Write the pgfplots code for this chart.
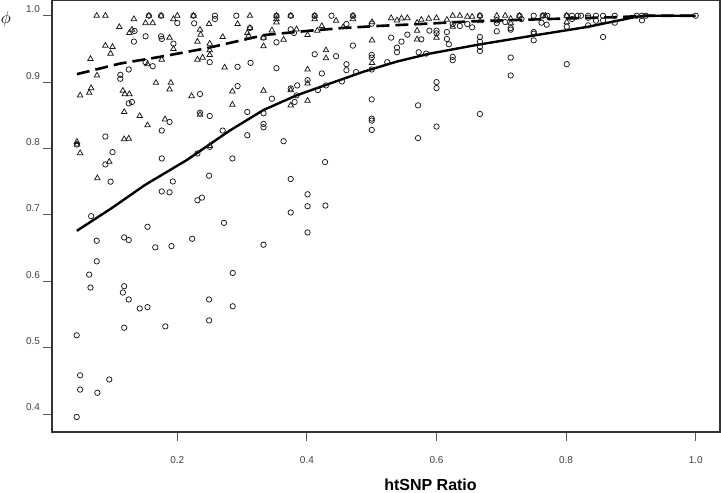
\documentclass[border=0pt]{standalone}
\usepackage{fontspec}
\setmainfont{Liberation Sans}
\usepackage{pgfplots}
\usepackage{pgfplotstable}
\pgfplotsset{compat=1.18}

% circles
\pgfplotstableread{
x y
0.156 1.0
0.175 1.0
0.200 0.989
0.225 1.0
0.226 0.9885
0.258 1.0
0.258 0.995
0.291 1.0
0.293 0.923
0.293 0.894
0.134 0.977
0.133 0.961
0.151 0.969
0.175 0.969
0.176 0.965
0.194 0.958
0.250 0.930
0.151 0.930
0.162 0.924
0.125 0.919
0.112 0.911
0.112 0.905
0.235 0.882
0.125 0.868
0.130 0.870
0.188 0.840
0.176 0.827
0.235 0.854
0.250 0.849
0.270 0.827
0.045 0.806
0.089 0.818
0.100 0.7945
0.089 0.776
0.176 0.785
0.231 0.7925
0.250 0.8025
0.285 0.785
0.312 0.9815
0.313 0.929
0.308 0.855
0.308 0.820
0.353 1.0
0.333 0.967
0.353 0.960
0.375 1.0
0.375 0.9795
0.380 0.974
0.353 0.921
0.346 0.875
0.333 0.853
0.333 0.837
0.333 0.832
0.364 0.811
0.412 1.0
0.412 0.942
0.423 0.913
0.401 0.903
0.385 0.895
0.375 0.8905
0.384 0.880
0.381 0.870
0.417 0.888
0.445 0.939
0.4295 0.895
0.438 1.0
0.461 0.9875
0.471 1.0
0.471 0.955
0.461 0.927
0.461 0.918
0.476 0.915
0.454 0.901
0.428 0.7795
0.500 0.988
0.500 0.941
0.500 0.937
0.500 0.919
0.500 0.874
0.500 0.845
0.500 0.842
0.500 0.828
0.524 0.930
0.530 0.967
0.539 0.952
0.539 0.945
0.546 0.961
0.555 0.9715
0.5765 0.9645
0.589 0.9775
0.600 0.9775
0.600 0.9735
0.616 0.9755
0.616 0.965
0.619 0.957
0.5725 0.945
0.584 0.943
0.625 0.938
0.625 0.933
0.600 0.900
0.600 0.891
0.5715 0.865
0.600 0.833
0.5715 0.8156
0.625 0.9875
0.636 0.9845
0.6475 0.9875
0.655 0.9825
0.667 1.0
0.667 0.968
0.667 0.961
0.667 0.953
0.667 0.947
0.667 0.852
0.693 0.993
0.693 0.989
0.693 0.9765
0.706 0.9905
0.7145 0.9815
0.7145 0.979
0.7145 0.937
0.7145 0.910
0.728 1.0
0.731 0.995
0.750 1.0
0.750 0.9755
0.750 0.973
0.750 0.963
0.764 1.0
0.771 1.0
0.762 0.9895
0.770 0.9865
0.801 1.0
0.801 0.9835
0.801 0.927
0.809 1.0
0.809 0.995
0.818 1.0
0.823 1.0
0.834 1.0
0.834 0.997
0.834 0.9855
0.846 1.0
0.846 0.9925
0.857 1.0
0.857 0.993
0.857 0.968
0.875 1.0
0.875 0.9895
0.909 1.0
0.917 1.0
0.917 0.993
0.923 1.0
1.0 1.0
0.097 0.750
0.067 0.698
0.176 0.7353
0.188 0.734
0.193 0.7503
0.249 0.759
0.231 0.722
0.238 0.726
0.272 0.688
0.154 0.682
0.118 0.666
0.125 0.662
0.0756 0.661
0.166 0.651
0.191 0.653
0.223 0.664
0.0756 0.630
0.064 0.610
0.066 0.5905
0.118 0.5925
0.116 0.583
0.125 0.5725
0.142 0.559
0.154 0.561
0.249 0.5725
0.2855 0.6125
0.2855 0.5623
0.249 0.541
0.118 0.530
0.1815 0.532
0.0447 0.5186
0.050 0.4583
0.050 0.4368
0.0766 0.432
0.095 0.452
0.0447 0.3955
0.375 0.754
0.401 0.731
0.401 0.713
0.4285 0.714
0.375 0.7036
0.401 0.6735
0.333 0.655
}\circles

% triangles
\pgfplotstableread{
x y
0.0756 1.0
0.089 1.0
0.1105 0.983
0.133 0.995
0.151 0.989
0.162 0.989
0.126 0.974
0.130 0.979
0.156 1.0
0.175 1.0
0.200 1.0
0.194 0.995
0.225 1.0
0.249 0.9875
0.293 0.9875
0.270 0.968
0.235 0.979
0.236 0.9715
0.231 0.961
0.250 0.958
0.250 0.948
0.250 0.941
0.239 0.937
0.231 0.934
0.273 0.922
0.285 0.886
0.285 0.866
0.188 0.967
0.194 0.950
0.089 0.955
0.100 0.953
0.097 0.943
0.066 0.935
0.076 0.910
0.154 0.927
0.176 0.934
0.167 0.899
0.190 0.899
0.188 0.889
0.222 0.879
0.050 0.880
0.064 0.884
0.067 0.891
0.116 0.887
0.119 0.882
0.126 0.882
0.118 0.855
0.142 0.849
0.154 0.835
0.181 0.844
0.235 0.851
0.045 0.810
0.045 0.806
0.050 0.793
0.118 0.814
0.125 0.815
0.095 0.780
0.250 0.804
0.0766 0.7553
0.312 1.0
0.312 0.9815
0.308 0.974
0.310 0.970
0.353 1.0
0.353 0.995
0.353 0.990
0.333 0.967
0.333 0.954
0.364 0.964
0.346 0.978
0.375 1.0
0.384 0.9795
0.333 0.887
0.412 1.0
0.412 0.995
0.401 0.971
0.401 0.919
0.401 0.898
0.375 0.888
0.375 0.865
0.401 0.872
0.4295 0.948
0.4295 0.936
0.445 0.9925
0.423 0.9845
0.416 0.9775
0.456 0.983
0.471 1.0
0.471 0.995
0.5005 0.9905
0.5005 0.963
0.5005 0.929
0.530 0.9965
0.539 0.993
0.546 0.996
0.555 0.9965
0.570 0.9895
0.5765 0.994
0.588 0.9955
0.600 0.9965
0.570 0.9775
0.570 0.9645
0.600 0.967
0.625 1.0
0.636 1.0
0.6475 0.9985
0.655 0.9985
0.616 0.994
0.625 0.9835
0.667 1.0
0.667 0.992
0.693 1.0
0.706 1.0
0.7145 0.9955
0.7145 0.989
0.728 1.0
0.764 1.0
0.768 1.0
0.801 1.0
0.801 0.9905
}\triangles

\begin{document}
\begin{tikzpicture}
\path[use as bounding box] (0,0) rectangle (721pt,493pt);
\begin{axis}[
    at={(52pt,61pt)}, anchor=south west,
    scale only axis,
    width=668pt, height=432pt,
    xmin=0.0066, xmax=1.0375,
    ymin=0.3729, ymax=1.0237,
    xtick={0.2,0.4,0.6,0.8,1.0},
    xticklabels={0.2,0.4,0.6,0.8,1.0},
    ytick={0.4,0.5,0.6,0.7,0.8,0.9,1.0},
    yticklabels={0.4,0.5,0.6,0.7,0.8,0.9,1.0},
    tick pos=left,
    tick align=outside,
    major tick length=8.5pt,
    tick style={black!65, line width=1pt},
    axis line style={black!80, line width=1.2pt},
    tick label style={font=\fontsize{10}{12}\selectfont, text=black!75},
    xticklabel style={yshift=-12pt},
    yticklabel style={yshift=6.5pt},
    xlabel={htSNP Ratio},
    xlabel style={at={(axis description cs:0.5666,0)}, anchor=base,
      yshift=-58pt, font=\bfseries\fontsize{16}{18}\selectfont},
  ]
  \addplot[only marks, mark=o, mark size=2.7pt, black!90,
    mark options={line width=0.75pt}] table {\circles};
  \addplot[only marks, mark=triangle, mark size=3.2pt, black!90,
    mark options={line width=0.75pt}] table {\triangles};
  % fitted curves
  \addplot[black, line width=2.4pt, no marks] coordinates {
    (0.045,0.676) (0.100,0.711) (0.150,0.745) (0.2145,0.7825) (0.281,0.827)
    (0.333,0.858) (0.384,0.880) (0.436,0.898) (0.487,0.9156) (0.539,0.931)
    (0.590,0.943) (0.662,0.956) (0.755,0.971) (0.832,0.983) (0.909,0.9985)
    (0.924,1.0) (1.0,1.0)};
  \addplot[black, line width=2.6pt, no marks, dash pattern=on 13pt off 6pt] coordinates {
    (0.045,0.912) (0.112,0.928) (0.173,0.938) (0.245,0.951) (0.290,0.961)
    (0.335,0.971) (0.405,0.9775) (0.456,0.9815) (0.508,0.9845) (0.575,0.9875)
    (0.652,0.9915) (0.755,0.9945) (0.806,0.996) (0.883,0.998) (0.924,1.0)
    (1.0,1.0)};
\end{axis}
\node[font=\fontsize{18}{20}\selectfont] at (6pt,473.5pt) {$\phi$};
\end{tikzpicture}
\end{document}
